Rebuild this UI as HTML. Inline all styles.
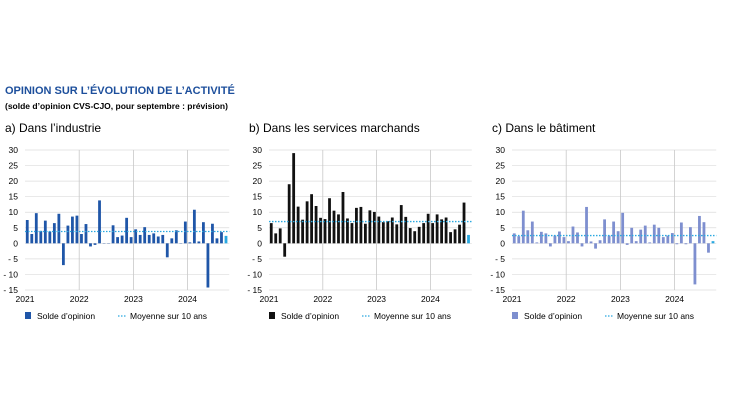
<!DOCTYPE html>
<html><head><meta charset="utf-8">
<style>
body{margin:0;width:730px;height:410px;background:#fff;font-family:"Liberation Sans",Arial,sans-serif;overflow:hidden}
svg text{font-family:"Liberation Sans",Arial,sans-serif}
</style></head>
<body>
<svg id="root" width="730" height="410" xmlns="http://www.w3.org/2000/svg">
<text x="5" y="94" font-size="11" font-weight="bold" fill="#1d4f9c">OPINION SUR L’ÉVOLUTION DE L’ACTIVITÉ</text>
<text x="5" y="109" font-size="8.5" font-weight="bold" fill="#000">(solde d’opinion CVS-CJO, pour septembre : prévision)</text>
</svg>
<script>
const yTicks=[30,25,20,15,10,5,0,-5,-10,-15];
const yTickLabels=["30","25","20","15","10","5","0","- 5","- 10","- 15"];
const yearLabels=["2021","2022","2023","2024"];
const industrie=[7.5,3,9.7,4,7.3,3.8,6.5,9.5,-7,5.7,8.6,8.9, 3,6.2,-1,-0.5,13.8,0,0,5.8,2,2.5,8.2,2, 4.5,2.7,5.2,2.7,3.2,2.2,2.7,-4.5,1.6,4.2,0,7, 0.3,10.8,0.6,6.8,-14.2,6.3,1.6,3.6,2.4];
const services=[6.5,3.2,4.8,-4.3,19,29,11.8,7.6,13.5,15.8,12,8.2, 7.8,14.5,10.5,9.3,16.5,8,6.5,11.4,11.7,6.3,10.6,10.1, 8.6,6.8,7.1,8.3,6.1,12.3,8.5,4.9,3.9,5.3,6.5,9.5, 6.5,9.3,7.7,8.3,3.6,4.5,6,13.1,2.7];
const batiment=[3.2,2.3,10.5,4.2,7,0.3,3.7,3.2,-1,2.5,3.8,2, 0.7,5.4,3.5,-1,11.7,0.6,-1.7,1,7.7,2.5,7,3.9, 9.8,-0.5,5,0.7,4.4,5.7,0.3,6,5,2,2.5,3.3, -0.3,6.7,-0.3,5.2,-13.2,8.8,6.8,-3,0.7];
const moyennes=[3.8,7,2.5];
const panelTitles=["a) Dans l’industrie","b) Dans les services marchands","c) Dans le bâtiment"];
const NS="http://www.w3.org/2000/svg";
const root=document.getElementById('root');
function mk(tag,attrs,parent){const e=document.createElementNS(NS,tag);for(const k in attrs)e.setAttribute(k,attrs[k]);(parent||root).appendChild(e);return e;}
const panels=[{x0:25,yw:54.2,data:industrie,color:"#1f56a8",key:"industrie"},{x0:269,yw:53.8,data:services,color:"#111111",key:"services"},{x0:512,yw:54.2,data:batiment,color:"#7e8fcf",key:"batiment"}];
const yTop=150,yBot=290,vMax=30,vMin=-15;
function yScale(v){return yTop+(vMax-v)/(vMax-vMin)*(yBot-yTop);}
panels.forEach((p,pi)=>{
  const g=mk('g',{});
  
  
  const xScale=i=>p.x0+(i+0.5)*p.yw/12;
  const xRight=p.x0+p.yw*3.75+1;
  const t=mk('text',{x:p.x0-20,y:132,'font-size':12,fill:'#000'},g);
  t.textContent=panelTitles[pi];
  
  
  yTicks.forEach((v,k)=>{
    const gl=mk('line',{x1:p.x0,x2:xRight,y1:yScale(v),y2:yScale(v),stroke:'#dcdcdc','stroke-width':0.7},g);
    
    
    const tl=mk('text',{x:p.x0-7,y:yScale(v)+3,'font-size':8.5,'text-anchor':'end',fill:'#000'},g);
    tl.textContent=yTickLabels[k];
    
    
  });
  yearLabels.forEach((yl,k)=>{
    const x=p.x0+k*p.yw;
    if(k>0){const vl=mk('line',{x1:x,x2:x,y1:yTop,y2:yBot,stroke:'#c8c8c8','stroke-width':0.8},g);
      
      }
    const xl=mk('text',{x:x,y:302,'font-size':8.5,'text-anchor':'middle',fill:'#000'},g);
    xl.textContent=yl;
    
    
  });
  p.data.forEach((v,i)=>{
    const y0=yScale(0),y1=yScale(v);
    const last=i===p.data.length-1;
    const b=mk('rect',{x:xScale(i)-1.4,width:2.8,y:Math.min(y0,y1),height:Math.max(0.3,Math.abs(y1-y0)),fill:last?'#2aa8e0':p.color},g);
    
    
  });
  const m=mk('line',{x1:p.x0,x2:xRight,y1:yScale(moyennes[pi]),y2:yScale(moyennes[pi]),stroke:'#2aa8e0','stroke-width':1.3,'stroke-dasharray':'1.5,1.5'},g);
  
  
  const ls=mk('rect',{x:p.x0,y:312,width:6,height:7,fill:p.color},g);
  
  
  const lt=mk('text',{x:p.x0+12,y:319,'font-size':8.5,fill:'#000'},g);
  lt.textContent='Solde d’opinion';
  
  
  const ll=mk('line',{x1:p.x0+93,x2:p.x0+101,y1:316,y2:316,stroke:'#2aa8e0','stroke-width':1.3,'stroke-dasharray':'1.5,1.5'},g);
  
  
  const lt2=mk('text',{x:p.x0+105,y:319,'font-size':8.5,fill:'#000'},g);
  lt2.textContent='Moyenne sur 10 ans';
  
  
});
</script>
</body></html>
